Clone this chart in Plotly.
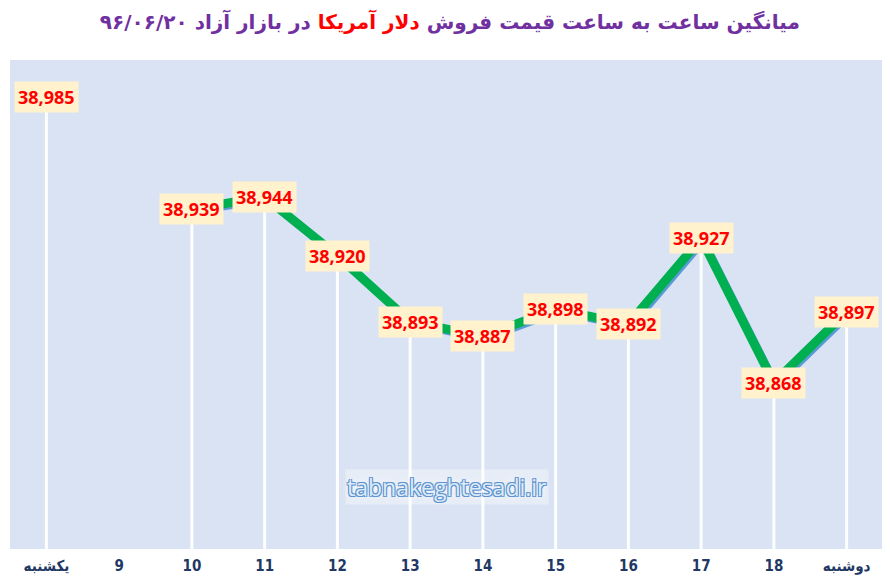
import plotly.graph_objects as go

categories = ["یکشنبه", "9", "10", "11", "12", "13", "14", "15", "16", "17", "18", "دوشنبه"]
prices = [38985, None, 38939, 38944, 38920, 38893, 38887, 38898, 38892, 38927, 38868, 38897]
y_range = [38800, 39000]

title_main = "میانگین ساعت به ساعت قیمت فروش"
title_red = "دلار آمریکا"
title_tail = "در بازار آزاد ۹۶/۰۶/۲۰"
watermark = "tabnakeghtesadi.ir"

xs = list(range(len(categories)))

fig = go.Figure()

# drop lines
dx, dy = [], []
for x, v in zip(xs, prices):
    if v is None:
        continue
    dx += [x, x, None]
    dy += [v, y_range[0], None]
fig.add_trace(go.Scatter(x=dx, y=dy, mode="lines", line=dict(color="rgba(255,255,255,0.95)", width=3),
                         hoverinfo="skip", showlegend=False))

line_x = list(xs)
fig.add_trace(go.Scatter(x=[x + 0.03 for x in line_x], y=[(v - 0.9) if v is not None else None for v in prices],
                         mode="lines", line=dict(color="#5B9BD5", width=8),
                         connectgaps=False, hoverinfo="skip", showlegend=False))
fig.add_trace(go.Scatter(x=line_x, y=prices, mode="lines", line=dict(color="#00B050", width=9),
                         connectgaps=False, showlegend=False))

for x, v in zip(xs, prices):
    if v is None:
        continue
    fig.add_annotation(x=x, y=v, text=f"<b>{v:,}</b>", showarrow=False,
                       font=dict(family="Open Sans", size=18, color="#FF0000"),
                       bgcolor="#FFF2CC", borderpad=3, xanchor="center", yanchor="middle")

fig.add_annotation(x=0.5, y=0.127, xref="paper", yref="paper", text=watermark, showarrow=False,
                   xanchor="center", yanchor="middle",
                   font=dict(family="Open Sans", size=23, color="#DDEBF7",
                             shadow="1px 1px 0 #5F93D0, -1px -1px 0 #5F93D0, 1px -1px 0 #5F93D0, -1px 1px 0 #5F93D0, 0 0 8px #ffffff"),
                   bgcolor="rgba(255,255,255,0.35)")

fig.update_layout(
    width=882, height=578,
    margin=dict(l=2, r=7, t=52, b=37, autoexpand=False),
    paper_bgcolor="white", plot_bgcolor="#DAE3F3",
    title=dict(
        text=f"<b>{title_main} <span style='color:#FF0000'>{title_red}</span> {title_tail}</b>",
        x=0.501, xanchor="center", y=0.975, yanchor="middle",
        font=dict(family="DejaVu Sans", size=20, color="#7030A0"),
    ),
    xaxis=dict(range=[-0.5, len(categories) - 0.5], tickvals=xs, ticktext=[f"<b>{c}</b>" for c in categories],
               showgrid=False, zeroline=False, showline=False, ticks="", ticklabelstandoff=6,
               tickfont=dict(family="Liberation Sans Narrow, DejaVu Sans Condensed", size=15, color="#1F3864")),
    yaxis=dict(range=y_range, showgrid=False, zeroline=False, showticklabels=False, showline=False),
)

fig.write_html("out.html")
